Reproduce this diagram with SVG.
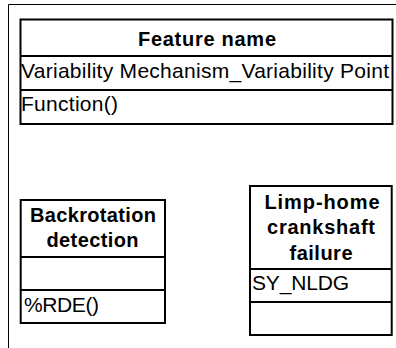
<svg xmlns="http://www.w3.org/2000/svg" width="396" height="348" viewBox="0 0 396 348">
  <style>
    .frame { fill: none; stroke: #000; stroke-width: 1; }
    .box { fill: #fff; stroke: #000; stroke-width: 2; }
    .sep { stroke: #000; stroke-width: 2; }
    .title { font-family: "Liberation Sans", Arial, sans-serif; font-weight: bold; font-size: 20px; fill: #000; text-anchor: middle; }
    .item { font-family: "Liberation Sans", Arial, sans-serif; font-size: 21px; fill: #000; }
  </style>
  <rect width="396" height="348" fill="#fff"/>

  <!-- diagram frame -->
  <path class="frame" d="M396 4.5 H8.5 V348"/>

  <!-- feature template class -->
  <g id="feature-name">
    <rect class="box" x="20.5" y="19.5" width="372" height="104.5"/>
    <line class="sep" x1="20.5" y1="56" x2="392.5" y2="56"/>
    <line class="sep" x1="20.5" y1="90" x2="392.5" y2="90"/>
    <text class="title" x="207" y="46" textLength="138" lengthAdjust="spacing">Feature name</text>
    <text class="item" x="21" y="78" textLength="368" lengthAdjust="spacing">Variability Mechanism_Variability Point</text>
    <text class="item" x="21" y="111" textLength="97" lengthAdjust="spacing">Function()</text>
  </g>

  <!-- backrotation detection class -->
  <g id="backrotation-detection">
    <rect class="box" x="20.7" y="200" width="144.3" height="123"/>
    <line class="sep" x1="20.7" y1="257" x2="165" y2="257"/>
    <line class="sep" x1="20.7" y1="290" x2="165" y2="290"/>
    <text class="title" x="93" y="222" textLength="126" lengthAdjust="spacing">Backrotation</text>
    <text class="title" x="92.5" y="247" textLength="92" lengthAdjust="spacing">detection</text>
    <text class="item" x="24" y="312" textLength="75" lengthAdjust="spacing">%RDE()</text>
  </g>

  <!-- limp-home crankshaft failure class -->
  <g id="limp-home-crankshaft-failure">
    <rect class="box" x="250" y="186" width="141.7" height="149"/>
    <line class="sep" x1="250" y1="269" x2="391.7" y2="269"/>
    <line class="sep" x1="250" y1="302" x2="391.7" y2="302"/>
    <text class="title" x="322" y="208.5" textLength="115" lengthAdjust="spacing">Limp-home</text>
    <text class="title" x="321" y="234" textLength="108" lengthAdjust="spacing">crankshaft</text>
    <text class="title" x="321" y="259.5" textLength="63" lengthAdjust="spacing">failure</text>
    <text class="item" x="252" y="289.5" textLength="97" lengthAdjust="spacing">SY_NLDG</text>
  </g>
</svg>
